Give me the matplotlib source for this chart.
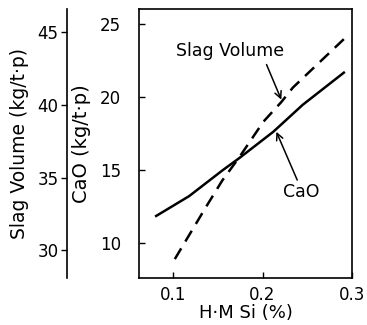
import numpy as np
import matplotlib
matplotlib.use("Agg")
import matplotlib.pyplot as plt

# CaO consumption vs hot metal Si (solid line, right/inner axis)
si_cao = [0.080, 0.118, 0.155, 0.174, 0.212, 0.245, 0.292]
cao = [11.8, 13.2, 14.95, 15.8, 17.6, 19.45, 21.7]

# slag volume vs hot metal Si (dashed line, outer left axis)
si_slag = [0.102, 0.137, 0.155, 0.174, 0.201, 0.221, 0.234, 0.293]
slag = [29.4, 33.0, 34.8, 36.4, 38.85, 40.2, 41.2, 44.65]

x_ticks = [0.1, 0.2, 0.3]
x_labels = ["0.1", "0.2", "0.3"]
cao_ticks = [10, 15, 20, 25]
slag_ticks = [30, 35, 40, 45]

plt.rcParams['font.family'] = ['DejaVu Sans']

fig = plt.figure(figsize=(3.67, 3.25), dpi=100)
ax = fig.add_axes([139 / 367, 1 - 278 / 325, 213 / 367, 269 / 325])

ax.plot(si_cao, cao, color="black", lw=1.8, solid_capstyle="butt")
ax.set_xlim(0.062, 0.2985)
ax.set_ylim(7.6, 26.0)
ax.set_xticks(x_ticks)
ax.set_xticklabels(x_labels)
ax.set_yticks(cao_ticks)
ax.tick_params(direction="in", length=4, width=1, labelsize=12, pad=6)
ax.tick_params(axis="y", pad=13)
ax.set_xlabel("H·M Si (%)", fontsize=13, labelpad=0)
ax.set_ylabel("CaO (kg/t·p)", fontsize=14, labelpad=6)
for s in ax.spines.values():
    s.set_linewidth(1.2)

# outer slag-volume axis
ax2 = ax.twinx()
ax2.plot(si_slag, slag, color="black", lw=1.8, dashes=(5, 3.2))
ax2.set_ylim(28.1, 46.6)
ax2.set_yticks(slag_ticks)
ax2.yaxis.set_ticks_position("left")
ax2.yaxis.set_label_position("left")
ax2.spines["left"].set_position(("outward", 52))
ax2.spines["left"].set_linewidth(1.2)
for k in ["right", "top", "bottom"]:
    ax2.spines[k].set_visible(False)
ax2.tick_params(direction="out", length=4, width=1, labelsize=12, pad=2)
ax2.set_ylabel("Slag Volume (kg/t·p)", fontsize=13.5, labelpad=6)

# annotations
ax.text(0.164, 23.1, "Slag Volume", fontsize=12.5, ha="center", va="center")
ax.annotate("", xy=(0.221, 19.8), xytext=(0.2045, 22.2),
            arrowprops=dict(arrowstyle="->", lw=1.1, color="black",
                            mutation_scale=12, shrinkA=0, shrinkB=0))
ax.text(0.243, 13.5, "CaO", fontsize=12.5, ha="center", va="center")
ax.annotate("", xy=(0.2155, 17.6), xytext=(0.2388, 14.3),
            arrowprops=dict(arrowstyle="->", lw=1.1, color="black",
                            mutation_scale=12, shrinkA=0, shrinkB=0))

fig.savefig("out.png", dpi=100)
